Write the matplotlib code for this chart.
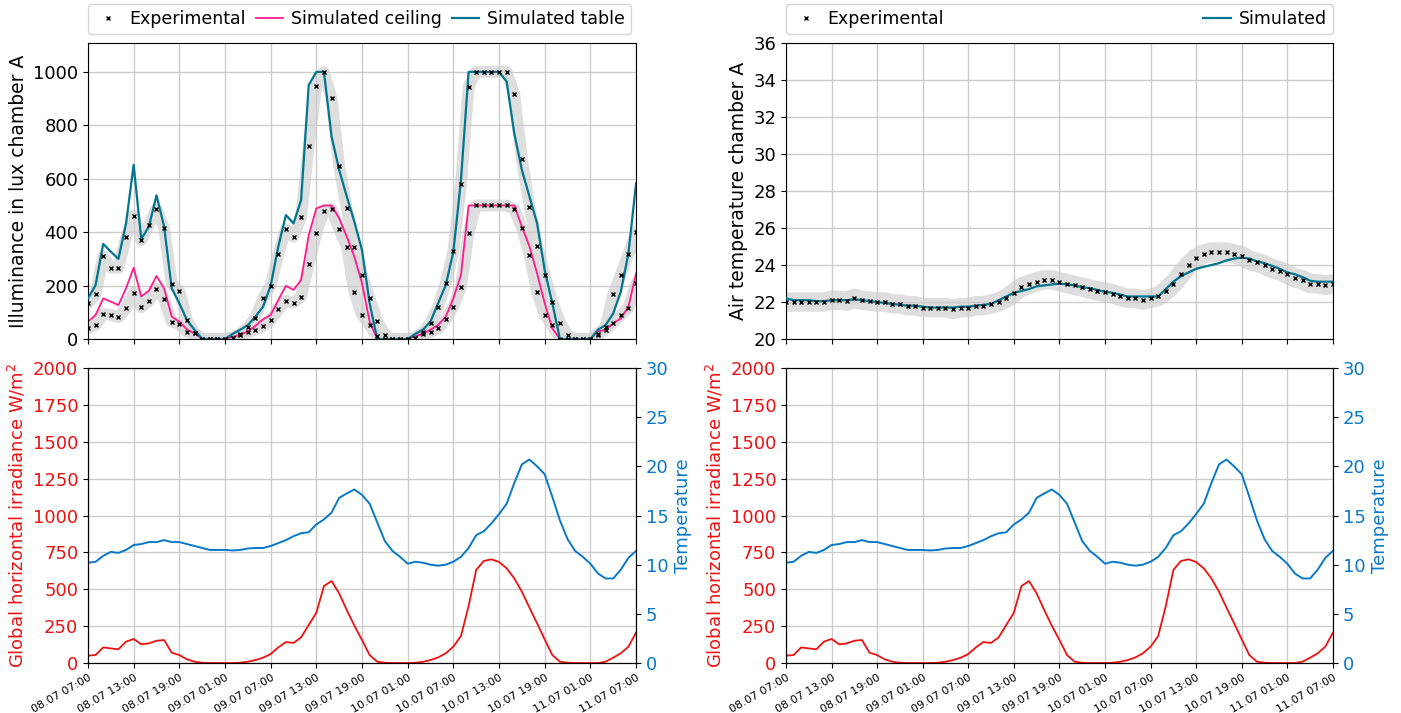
import numpy as np
import pandas as pd
import matplotlib.pyplot as plt
import matplotlib.dates as mdates
from matplotlib.lines import Line2D

# hourly time axis, 08.07 07:00 -> 11.07 07:00
times = pd.date_range("2023-07-08 07:00", periods=73, freq="h")

# illuminance chamber A (lux)
table_sim = [152, 202, 356, 327, 300, 433, 652, 374, 421, 538, 421, 190, 134,
             71, 34, 0, 0, 0, 0, 19, 35, 52, 84, 121, 200,
             346, 464, 433, 520, 951, 1000, 1000, 758, 633, 533, 439, 333,
             134, 0, 0, 0, 0, 0, 19, 35, 65, 134, 202, 327,
             595, 1000, 1000, 1000, 1000, 1000, 964, 770, 633, 533, 433, 258,
             134, 0, 0, 0, 0, 0, 35, 52, 96, 177, 321, 583]
ceiling_sim = [65, 90, 152, 140, 127, 190, 267, 159, 181, 236, 190, 84, 65,
               36, 21, 0, 0, 0, 0, 8, 16, 29, 49, 74, 90,
               146, 199, 184, 221, 389, 489, 500, 500, 452, 383, 308, 209,
               65, 0, 0, 0, 0, 0, 11, 19, 35, 52, 84, 152,
               240, 500, 500, 500, 500, 500, 500, 500, 421, 346, 246, 134,
               40, 0, 0, 0, 0, 0, 29, 34, 59, 77, 121, 246]
table_exp = [134, 169, 311, 267, 267, 381, 462, 370, 427, 486, 416, 206, 181,
             71, 21, 0, 0, 0, 0, 5, 19, 44, 80, 152, 200,
             317, 412, 383, 456, 724, 949, 1000, 901, 648, 489, 346, 240,
             152, 67, 16, 0, 0, 0, 4, 26, 60, 121, 209, 330,
             580, 945, 1000, 1000, 1000, 1000, 1000, 918, 674, 496, 350, 240,
             140, 61, 16, 0, 0, 0, 20, 45, 169, 240, 317, 400]
ceiling_exp = [40, 52, 94, 90, 81, 115, 174, 119, 143, 189, 149, 65, 55,
               27, 21, 0, 0, 0, 0, 5, 16, 26, 35, 49, 71,
               111, 143, 136, 159, 280, 398, 481, 486, 411, 346, 175, 90,
               52, 10, 0, 0, 0, 0, 4, 19, 26, 40, 74, 121,
               196, 398, 500, 500, 500, 500, 500, 486, 417, 315, 175, 90,
               52, 0, 0, 0, 0, 0, 16, 35, 61, 90, 117, 209]

# air temperature chamber A
air_sim = [22.2, 22.1, 22.1, 22.1, 22.05, 22.05, 22.1,
           22.1, 22.1, 22.15, 22.1, 22.05, 22.0,
           21.95, 21.9, 21.85, 21.8, 21.8, 21.75,
           21.7, 21.7, 21.7, 21.7, 21.75, 21.75,
           21.8, 21.85, 21.9, 22.1, 22.3, 22.5,
           22.6, 22.7, 22.85, 22.9, 22.95, 23.0,
           22.95, 22.9, 22.8, 22.75, 22.65, 22.55,
           22.5, 22.4, 22.3, 22.3, 22.3, 22.3,
           22.3, 22.7, 23.1, 23.4, 23.6, 23.8,
           23.9, 24.0, 24.1, 24.25, 24.35, 24.4,
           24.35, 24.2, 24.1, 23.95, 23.8, 23.6,
           23.5, 23.35, 23.15, 23.1, 23.1, 23.1]
air_exp = [22.0, 22.0, 22.0, 22.0, 22.0, 22.0, 22.1,
           22.1, 22.05, 22.2, 22.1, 22.05, 22.0,
           22.0, 21.9, 21.9, 21.8, 21.8, 21.7,
           21.7, 21.7, 21.7, 21.6, 21.7, 21.7,
           21.8, 21.8, 21.9, 22.0, 22.2, 22.5,
           22.8, 22.95, 23.1, 23.2, 23.2, 23.1,
           23.0, 22.9, 22.8, 22.7, 22.6, 22.55,
           22.45, 22.3, 22.2, 22.2, 22.1, 22.2,
           22.3, 22.6, 23.0, 23.5, 24.0, 24.4,
           24.6, 24.7, 24.7, 24.7, 24.6, 24.5,
           24.25, 24.15, 24.0, 23.8, 23.7, 23.5,
           23.3, 23.2, 23.0, 23.0, 22.9, 23.0]

# weather: global horizontal irradiance (W/m2) and outdoor temperature
ghi = [50, 54, 106, 99, 93, 145, 163, 127, 133, 151, 156, 70, 54,
       25, 9, 2, 0, 0, 0, 0, 2, 9, 20, 36, 61,
       106, 142, 136, 174, 258, 341, 522, 556, 472, 359, 253, 156,
       54, 9, 2, 0, 0, 0, 2, 8, 20, 38, 66, 111,
       183, 386, 631, 692, 703, 685, 642, 574, 484, 375, 269, 160,
       54, 9, 2, 0, 0, 0, 0, 9, 36, 66, 111, 206]
t_out = [10.2, 10.3, 10.9, 11.3, 11.2, 11.5, 12.0, 12.1, 12.3, 12.3, 12.5, 12.3, 12.3,
         12.1, 11.9, 11.7, 11.5, 11.5, 11.5, 11.45, 11.5, 11.65, 11.7, 11.7, 11.9,
         12.2, 12.5, 12.9, 13.2, 13.3, 14.1, 14.6, 15.3, 16.8, 17.25, 17.65, 17.1,
         16.2, 14.3, 12.4, 11.4, 10.8, 10.1, 10.3, 10.2, 10.0, 9.9, 10.0, 10.3,
         10.8, 11.7, 13.0, 13.4, 14.2, 15.15, 16.2, 18.3, 20.2, 20.7, 20.0, 19.2,
         16.9, 14.5, 12.6, 11.4, 10.8, 10.1, 9.1, 8.6, 8.6, 9.5, 10.7, 11.4]

TEAL = "#00758f"
PINK = "#ff1a8c"
RED = "#ee1111"
BLUE = "#0878c8"
BAND = "#d9d9d9"

plt.rcParams["font.size"] = 13

fig = plt.figure(figsize=(14.01, 7.13), dpi=100)
ax_lux = fig.add_axes([0.0628, 0.5245, 0.3912, 0.4151])
ax_air = fig.add_axes([0.561, 0.5245, 0.3904, 0.4151])
ax_wl = fig.add_axes([0.0628, 0.0701, 0.3912, 0.4137])
ax_wr = fig.add_axes([0.561, 0.0701, 0.3904, 0.4137])


def style_time_axis(ax, labels):
    ax.set_xlim(times[0], times[-1])
    ax.xaxis.set_major_locator(mdates.HourLocator(byhour=[1, 7, 13, 19]))
    ax.xaxis.set_major_formatter(mdates.DateFormatter("%d.%m %H:%M"))
    ax.grid(True, color="#cccccc", linewidth=1)
    if labels:
        for lab in ax.get_xticklabels():
            lab.set_rotation(30)
            lab.set_ha("right")
            lab.set_rotation_mode("anchor")
            lab.set_fontsize(8)
    else:
        ax.tick_params(axis="x", labelbottom=False)


# --- illuminance
for band in (table_exp, ceiling_exp):
    ax_lux.plot(times, band, color=BAND, lw=8.5, alpha=0.85, solid_joinstyle="round",
                solid_capstyle="round", zorder=1)
ax_lux.plot(times, ceiling_sim, color=PINK, lw=1.3, zorder=2)
ax_lux.plot(times, table_sim, color=TEAL, lw=1.6, zorder=3)
ax_lux.plot(times, table_exp, "x", color="black", ms=3, mew=1, zorder=4)
ax_lux.plot(times, ceiling_exp, "x", color="black", ms=3, mew=1, zorder=4)
ax_lux.set_ylim(0, 1108)
ax_lux.set_yticks(range(0, 1001, 200))
ax_lux.set_ylabel("Illuminance in lux chamber A", fontsize=13.5)
style_time_axis(ax_lux, False)
handles = [Line2D([], [], ls="none", marker="x", color="black", ms=3),
           Line2D([], [], color=PINK, lw=1.3),
           Line2D([], [], color=TEAL, lw=1.6)]
ax_lux.legend(handles, ["Experimental", "Simulated ceiling", "Simulated table"],
              loc="lower left", bbox_to_anchor=(0, 1.03), ncol=3, fontsize=12.5,
              borderaxespad=0, borderpad=0.35, handlelength=1.6, handletextpad=0.45,
              columnspacing=0.55)

# --- air temperature
ax_air.plot(times, air_exp, color=BAND, lw=14, alpha=0.85, solid_joinstyle="round",
            solid_capstyle="round", zorder=1)
ax_air.plot(times, air_sim, color=TEAL, lw=1.6, zorder=3)
ax_air.plot(times, air_exp, "x", color="black", ms=3, mew=1, zorder=4)
ax_air.set_ylim(20, 36)
ax_air.set_yticks(range(20, 37, 2))
ax_air.set_ylabel("Air temperature chamber A", fontsize=13.5)
style_time_axis(ax_air, False)
handles = [Line2D([], [], ls="none", marker="x", color="black", ms=3),
           Line2D([], [], color=TEAL, lw=1.6)]
ax_air.legend(handles, ["Experimental", "Simulated"],
              loc="lower left", bbox_to_anchor=(0, 1.03, 1.0, 0.1), mode="expand",
              ncol=2, fontsize=12.5, borderaxespad=0, borderpad=0.35,
              handlelength=1.6, handletextpad=0.45)


# --- weather panels (same data both sides)
def weather(ax):
    ax.plot(times, ghi, color=RED, lw=1.3)
    ax.set_ylim(0, 2000)
    ax.set_yticks(range(0, 2001, 250))
    ax.set_ylabel("Global horizontal irradiance W/m$^2$", color=RED, fontsize=13)
    ax.tick_params(axis="y", labelcolor=RED)
    style_time_axis(ax, True)
    tw = ax.twinx()
    tw.plot(times, t_out, color=BLUE, lw=1.4)
    tw.set_ylim(0, 30)
    tw.set_yticks(range(0, 31, 5))
    tw.set_ylabel("Temperature", color=BLUE, fontsize=13)
    tw.tick_params(axis="y", labelcolor=BLUE)


weather(ax_wl)
weather(ax_wr)

fig.savefig("out.png", dpi=100)
